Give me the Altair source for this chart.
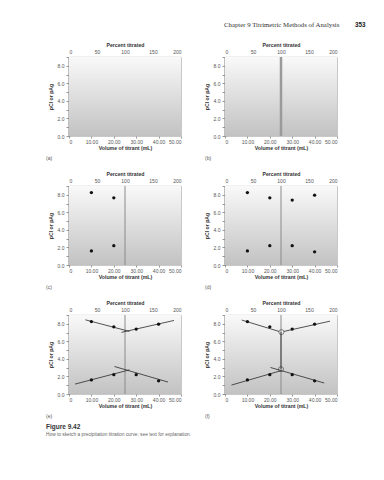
import altair as alt
import pandas as pd

# ---------------- data ----------------
VOL_TICKS = [0, 10, 20, 30, 40, 50]
PCT_TICKS = [0, 50, 100, 150, 200]
P_TICKS = [0, 1, 2, 3, 4, 5, 6, 7, 8, 9]
EQ_VOL = [25]

PT_VOL = [10, 20, 30, 40]
PT_UPPER = [8.25, 7.65, 7.4, 7.95]
PT_LOWER = [1.6, 2.2, 2.2, 1.5]

E_LINE_ID = ["ul", "ul", "ur", "ur", "ll", "ll", "lr", "lr"]
E_LINE_VOL = [7.3, 27.0, 23.4, 46.9, 2.7, 27.0, 20.3, 44.2]
E_LINE_P = [8.45, 7.13, 7.02, 8.38, 1.13, 2.75, 3.13, 1.36]

F_LINE_ID = ["ul", "ul", "ur", "ur", "ll", "ll", "lr", "lr", "eq", "eq"]
F_LINE_VOL = [7.5, 24.1, 26.3, 46.9, 2.9, 24.8, 20.3, 44.3, 25.0, 25.0]
F_LINE_P = [8.42, 7.13, 7.13, 8.3, 1.02, 2.64, 3.02, 1.25, 2.85, 7.05]

F_CIRCLE_VOL = [25.2, 25.0]
F_CIRCLE_P = [7.05, 2.83]

PANEL_TAGS = ["(a)", "(b)", "(c)", "(d)", "(e)", "(f)"]
HEADER = "Chapter 9  Titrimetric Methods of Analysis"
PAGE_NO = "353"
FIG_LABEL = "Figure 9.42"
FIG_CAPTION = "How to sketch a precipitation titration curve; see text for explanation."

W, H = 112, 79
SANS = "Liberation Sans"

GRADIENT = {
    "gradient": "linear", "x1": 0, "y1": 0, "x2": 0, "y2": 1,
    "stops": [{"offset": 0, "color": "#f9f9f9"}, {"offset": 1, "color": "#c2c2c2"}],
}

x_enc = alt.X(
    "v:Q",
    scale=alt.Scale(domain=[0, 50], nice=False, zero=False),
    axis=alt.Axis(
        orient="bottom", values=VOL_TICKS, title="Volume of titrant (mL)",
        labelExpr="datum.value == 0 ? '0' : format(datum.value, '.2f')",
        labelPadding=1, titlePadding=1, domain=False, tickSize=2,
    ),
)
y_enc = alt.Y(
    "p:Q",
    scale=alt.Scale(domain=[0, 9], nice=False, zero=False),
    axis=alt.Axis(
        orient="left", values=P_TICKS, title="pCl or pAg",
        labelExpr="datum.value % 2 == 0 ? format(datum.value, '.1f') : ''",
        labelPadding=2, titlePadding=4, domainWidth=2, domainColor="#8a8a8a", tickSize=3,
    ),
)

one = pd.DataFrame({"k": [0]})


def txt(text, x, y, size=5, color="#555", weight="normal", font=SANS, align="left"):
    return alt.Chart(one).mark_text(
        text=text, align=align, baseline="middle", fontSize=size, color=color,
        fontWeight=weight, font=font, clip=False,
    ).encode(x=alt.value(x), y=alt.value(y))


def panel(idx, n_pts=0, eq=None, lines=None, circles=None, extra=()):
    layers = [
        alt.Chart(one).mark_rect(fill=GRADIENT).encode(
            x=alt.value(0), x2=alt.value(W), y=alt.value(0), y2=alt.value(H)
        ),
        alt.Chart(pd.DataFrame({"v": [0, 50], "p": [0, 9]})).mark_point(opacity=0).encode(
            x=x_enc, y=y_enc
        ),
    ]
    if eq is not None:
        layers.append(
            alt.Chart(pd.DataFrame({"v": EQ_VOL})).mark_rule(
                color=eq[0], strokeWidth=eq[1]
            ).encode(x=x_enc)
        )
    if lines is not None:
        ids, vs, ps = lines
        layers.append(
            alt.Chart(pd.DataFrame({"id": ids, "v": vs, "p": ps})).mark_line(
                color="#2a2a2a", strokeWidth=0.8
            ).encode(x=x_enc, y=y_enc, detail="id:N")
        )
    if circles is not None:
        layers.append(
            alt.Chart(pd.DataFrame({"v": circles[0], "p": circles[1]})).mark_point(
                shape="circle", size=26, color="#333", strokeWidth=0.8, filled=False
            ).encode(x=x_enc, y=y_enc)
        )
    if n_pts:
        df = pd.DataFrame({
            "v": PT_VOL[:n_pts] + PT_VOL[:n_pts],
            "p": PT_UPPER[:n_pts] + PT_LOWER[:n_pts],
        })
        layers.append(
            alt.Chart(df).mark_circle(size=11, color="#111", opacity=1).encode(x=x_enc, y=y_enc)
        )
    tag_x = -23 if idx % 2 == 0 else -20
    layers.append(txt(PANEL_TAGS[idx], tag_x, H + 22, size=5, color="#555"))
    layers.extend(extra)

    inner = alt.layer(*layers)
    top = alt.Chart(pd.DataFrame({"pct": PCT_TICKS})).mark_point(opacity=0).encode(
        x=alt.X(
            "pct:Q",
            scale=alt.Scale(domain=[0, 200], nice=False, zero=False),
            axis=alt.Axis(
                orient="top", values=PCT_TICKS, format="d", title="Percent titrated",
                ticks=False, domain=False, labelPadding=3, titlePadding=2,
            ),
        )
    )
    return alt.layer(inner, top).resolve_scale(x="independent").properties(width=W, height=H)


pa = panel(0)
pb = panel(1, eq=("#9a9a9a", 2.5), extra=(
    txt(HEADER, -1, -32, size=6.8, color="#333", font="Liberation Serif"),
    txt(PAGE_NO, 130, -32, size=6.3, color="#222", weight="bold"),
))
pc = panel(2, n_pts=2, eq=("#8a8a8a", 1))
pd_ = panel(3, n_pts=4, eq=("#8a8a8a", 1))
pe = panel(4, n_pts=4, eq=("#8a8a8a", 1), lines=(E_LINE_ID, E_LINE_VOL, E_LINE_P), extra=(
    txt(FIG_LABEL, -23, H + 33, size=6.5, color="#333", weight="bold"),
    txt(FIG_CAPTION, -23, H + 41, size=4.8, color="#666"),
))
pf = panel(5, n_pts=4, eq=("#8a8a8a", 1), lines=(F_LINE_ID, F_LINE_VOL, F_LINE_P),
           circles=(F_CIRCLE_VOL, F_CIRCLE_P))

chart = alt.concat(
    pa, pb, pc, pd_, pe, pf, columns=2, spacing={"row": 50, "column": 44}, bounds="flush"
).properties(
    padding={"left": 37, "top": 13, "right": 5, "bottom": 5}
).configure_view(
    stroke="#a8a8a8", strokeWidth=0.8
).configure_axis(
    labelFont=SANS, labelFontSize=5, labelColor="#555",
    titleFont=SANS, titleFontSize=5.2, titleFontWeight="bold", titleColor="#333",
    domainColor="#999", tickColor="#999", grid=False,
)

chart.save("out.html", embed_options={"renderer": "svg", "actions": False})
